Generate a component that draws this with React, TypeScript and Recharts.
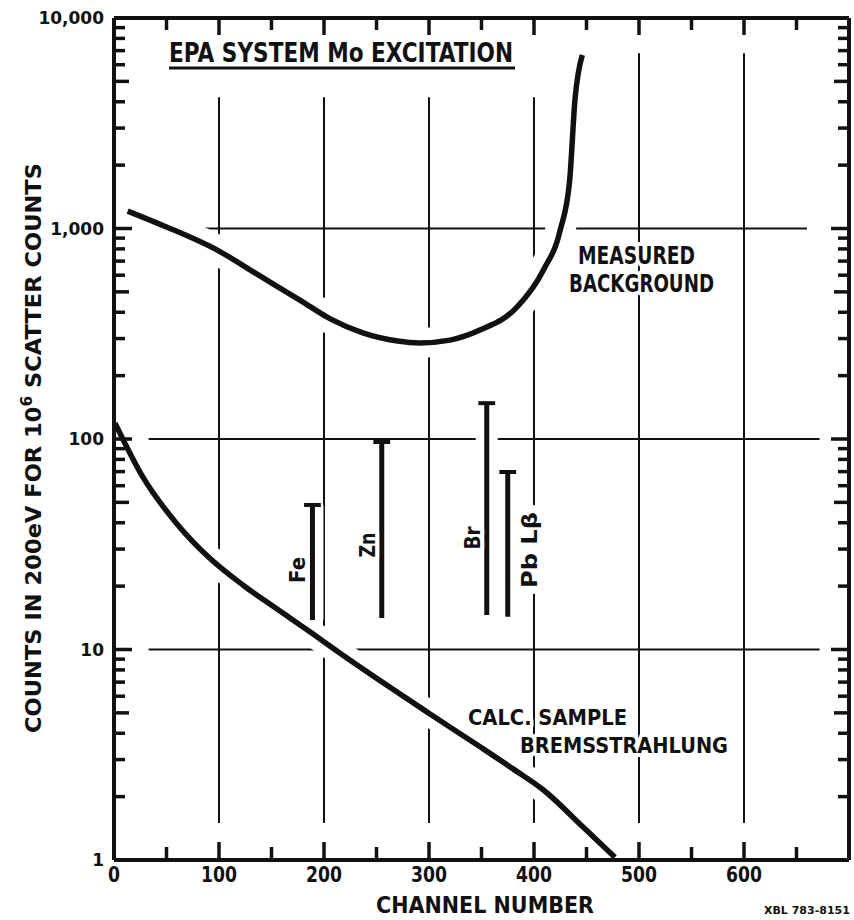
import { LineChart, Line, XAxis, YAxis } from "recharts";

const W = 854;
const H = 920;
const ink = "#111";
const font = "'DejaVu Sans', 'Liberation Sans', sans-serif";

// measured background (channel -> counts)
const bgChannels = [13, 50, 98, 139, 177, 206, 237, 270, 291, 320, 349, 384, 409, 425, 434, 439, 446];
const bgCounts = [1210, 1017, 791, 595, 457, 372, 319, 292, 286, 295, 330, 424, 635, 984, 1700, 4080, 6670];

// calculated sample bremsstrahlung
const bremChannels = [1, 28, 60, 91, 123, 155, 187, 215, 301, 349, 380, 409, 447, 477];
const bremCounts = [119, 65.3, 39.5, 27.2, 20.2, 15.6, 12.1, 9.62, 4.94, 3.44, 2.71, 2.15, 1.43, 1.03];

// element peak markers
const elements = ["Fe", "Zn", "Br", "Pb Lβ"];
const elementChannels = [189, 255, 355, 375];
const elementTops = [48.6, 96.8, 148, 69.7];
const elementBottoms = [13.8, 14.1, 14.6, 14.3];

// axes
const channelTicks = [0, 50, 100, 150, 200, 250, 300, 350, 400, 450, 500, 550, 600, 650];
const channelLabels = [0, 100, 200, 300, 400, 500, 600];
const decades = [1, 10, 100, 1000, 10000];
const decadeLabels = ["1", "10", "100", "1,000", "10,000"];
const mantissas = [2, 3, 4, 5, 6, 7, 8, 9];

// hand-drawn grid
const gridChannels = [100, 200, 300, 400, 500, 600];
const gridTops = [4200, 4200, 4200, 4200, 6800, 6800];
const gridBottom = 1.5;
const gridCounts = [10, 100, 1000];
const gridStarts = [33, 33, 25];
const gridEnds = [672, 672, 660];

const countTicks = decades.flatMap((d) => (d === 10000 ? [d] : [d, ...mantissas.map((m) => m * d)]));

const bgData = bgChannels.map((ch, i) => ({ ch, v: bgCounts[i] }));
const bremData = bremChannels.map((ch, i) => ({ ch, v: bremCounts[i] }));
const capHalf = 8;

const tickLen = (v: number) => {
  if (decades.includes(v)) return 18;
  const m = Math.round(v / Math.pow(10, Math.floor(Math.log10(v) + 1e-9)));
  return m === 5 ? 15 : 11;
};

function BottomTick({ x, y, payload }: any) {
  const v = payload.value as number;
  const s = String(v);
  return (
    <g>
      {v > 0 && <line x1={x} x2={x} y1={y} y2={y - (v % 100 === 0 ? 18 : 13)} stroke={ink} strokeWidth={3.5} />}
      {channelLabels.includes(v) && (
        <text x={x} y={y + 22} textAnchor="middle" fontFamily={font} fontWeight="bold" fontSize={22} textLength={s.length * 12} lengthAdjust="spacingAndGlyphs" fill={ink}>
          {s}
        </text>
      )}
    </g>
  );
}

function TopTick({ x, y, payload }: any) {
  const v = payload.value as number;
  return <line x1={x} x2={x} y1={y} y2={y + (v % 100 === 0 ? 17 : 12)} stroke={ink} strokeWidth={3.5} />;
}

function LeftTick({ x, y, payload }: any) {
  const v = payload.value as number;
  const i = decades.indexOf(v);
  return (
    <g>
      <line x1={x} x2={x + tickLen(v)} y1={y} y2={y} stroke={ink} strokeWidth={3.5} />
      {i >= 0 && (
        <text x={x - 10} y={y + 6} textAnchor="end" fontFamily={font} fontWeight="bold" fontSize={17} fill={ink}>
          {decadeLabels[i]}
        </text>
      )}
    </g>
  );
}

function RightTick({ x, y, payload }: any) {
  const v = payload.value as number;
  return <line x1={x} x2={x - tickLen(v)} y1={y} y2={y} stroke={ink} strokeWidth={3.5} />;
}

const seg = (key: string, data: { ch: number; v: number }[], stroke: string, width: number, curve = false) => (
  <Line
    key={key}
    data={data}
    dataKey="v"
    xAxisId="b"
    yAxisId="l"
    type={curve ? "monotone" : "linear"}
    stroke={stroke}
    strokeWidth={width}
    dot={false}
    activeDot={false}
    isAnimationActive={false}
  />
);

const haloText = {
  fontFamily: font,
  fontWeight: "bold" as const,
  fill: ink,
  stroke: "#fff",
  strokeWidth: 8,
  paintOrder: "stroke" as const,
  strokeLinejoin: "round" as const,
};

export default function App() {
  return (
    <div style={{ position: "absolute", left: 0, top: 0, width: W, height: H, background: "#fff" }}>
      <LineChart width={W} height={H} margin={{ top: 0, right: 0, bottom: 0, left: 54 }}>
        <XAxis xAxisId="b" dataKey="ch" type="number" domain={[0, 700]} ticks={channelTicks} interval={0} tickSize={0} tickMargin={0} tickLine={false} tick={BottomTick} axisLine={{ stroke: ink, strokeWidth: 4 }} height={60} allowDataOverflow />
        <XAxis xAxisId="t" orientation="top" dataKey="ch" type="number" domain={[0, 700]} ticks={channelTicks} interval={0} tickSize={0} tickMargin={0} tickLine={false} tick={TopTick} axisLine={{ stroke: ink, strokeWidth: 4 }} height={18} allowDataOverflow />
        <YAxis yAxisId="l" scale="log" type="number" domain={[1, 10000]} ticks={countTicks} interval={0} tickSize={0} tickMargin={0} tickLine={false} tick={LeftTick} axisLine={{ stroke: ink, strokeWidth: 4 }} width={60} allowDataOverflow />
        <YAxis yAxisId="r" orientation="right" scale="log" type="number" domain={[1, 10000]} ticks={countTicks} interval={0} tickSize={0} tickMargin={0} tickLine={false} tick={RightTick} axisLine={{ stroke: ink, strokeWidth: 4 }} width={5} allowDataOverflow />

        {gridChannels.map((ch, i) =>
          seg(`gv${ch}`, [{ ch, v: gridBottom }, { ch, v: gridTops[i] }], ink, 2)
        )}
        {gridCounts.map((v, i) =>
          seg(`gh${v}`, [{ ch: gridStarts[i], v }, { ch: gridEnds[i], v }], ink, 2)
        )}

        {seg("bgHalo", bgData, "#fff", 30, true)}
        {seg("bremHalo", bremData, "#fff", 26, true)}
        {elementChannels.map((ch, i) =>
          seg(`eh${i}`, [{ ch, v: elementBottoms[i] }, { ch, v: elementTops[i] }], "#fff", 22)
        )}

        {seg("bg", bgData, ink, 5.5, true)}
        {seg("brem", bremData, ink, 5.5, true)}
        {elementChannels.map((ch, i) =>
          seg(`e${i}`, [{ ch, v: elementBottoms[i] }, { ch, v: elementTops[i] }], ink, 5)
        )}
        {elementChannels.map((ch, i) =>
          seg(`c${i}`, [{ ch: ch - capHalf, v: elementTops[i] }, { ch: ch + capHalf, v: elementTops[i] }], ink, 4)
        )}
      </LineChart>

      <svg width={W} height={H} style={{ position: "absolute", left: 0, top: 0, pointerEvents: "none" }}>
        <text x={169} y={62} fontSize={26} textLength={344} lengthAdjust="spacingAndGlyphs" {...haloText}>
          EPA SYSTEM Mo EXCITATION
        </text>
        <line x1={169} x2={515} y1={68} y2={68} stroke={ink} strokeWidth={3} />

        <text x={578} y={264} fontSize={24} textLength={117} lengthAdjust="spacingAndGlyphs" {...haloText}>
          MEASURED
        </text>
        <text x={569} y={292} fontSize={24} textLength={145} lengthAdjust="spacingAndGlyphs" {...haloText}>
          BACKGROUND
        </text>
        <text x={468} y={725} fontSize={21} textLength={159} lengthAdjust="spacingAndGlyphs" {...haloText}>
          CALC. SAMPLE
        </text>
        <text x={520} y={753} fontSize={22} textLength={208} lengthAdjust="spacingAndGlyphs" {...haloText}>
          BREMSSTRAHLUNG
        </text>

        {elements.map((name, i) => {
          const pos = [
            [305, 570, 26, 8],
            [375, 545, 25, 8],
            [480, 538, 23, 8],
            [537, 550, 76, 14],
          ][i];
          return (
            <text key={name} transform={`translate(${pos[0]},${pos[1]}) rotate(-90)`} textAnchor="middle" fontSize={21} textLength={pos[2]} lengthAdjust="spacingAndGlyphs" {...haloText} strokeWidth={pos[3]}>
              {name}
            </text>
          );
        })}

        <text transform="translate(41,448) rotate(-90)" textAnchor="middle" fontFamily={font} fontWeight="bold" fontSize={22} fill={ink} textLength={570} lengthAdjust="spacingAndGlyphs">
          COUNTS IN 200eV FOR 10
          <tspan dy={-9} fontSize={15}>6</tspan>
          <tspan dy={9}> SCATTER COUNTS</tspan>
        </text>

        <text x={376} y={913} fontFamily={font} fontWeight="bold" fontSize={23} fill={ink} textLength={218} lengthAdjust="spacingAndGlyphs">
          CHANNEL NUMBER
        </text>
        <text x={764} y={914} fontFamily={font} fontWeight="bold" fontSize={11} fill={ink}>
          XBL 783-8151
        </text>
      </svg>
    </div>
  );
}
